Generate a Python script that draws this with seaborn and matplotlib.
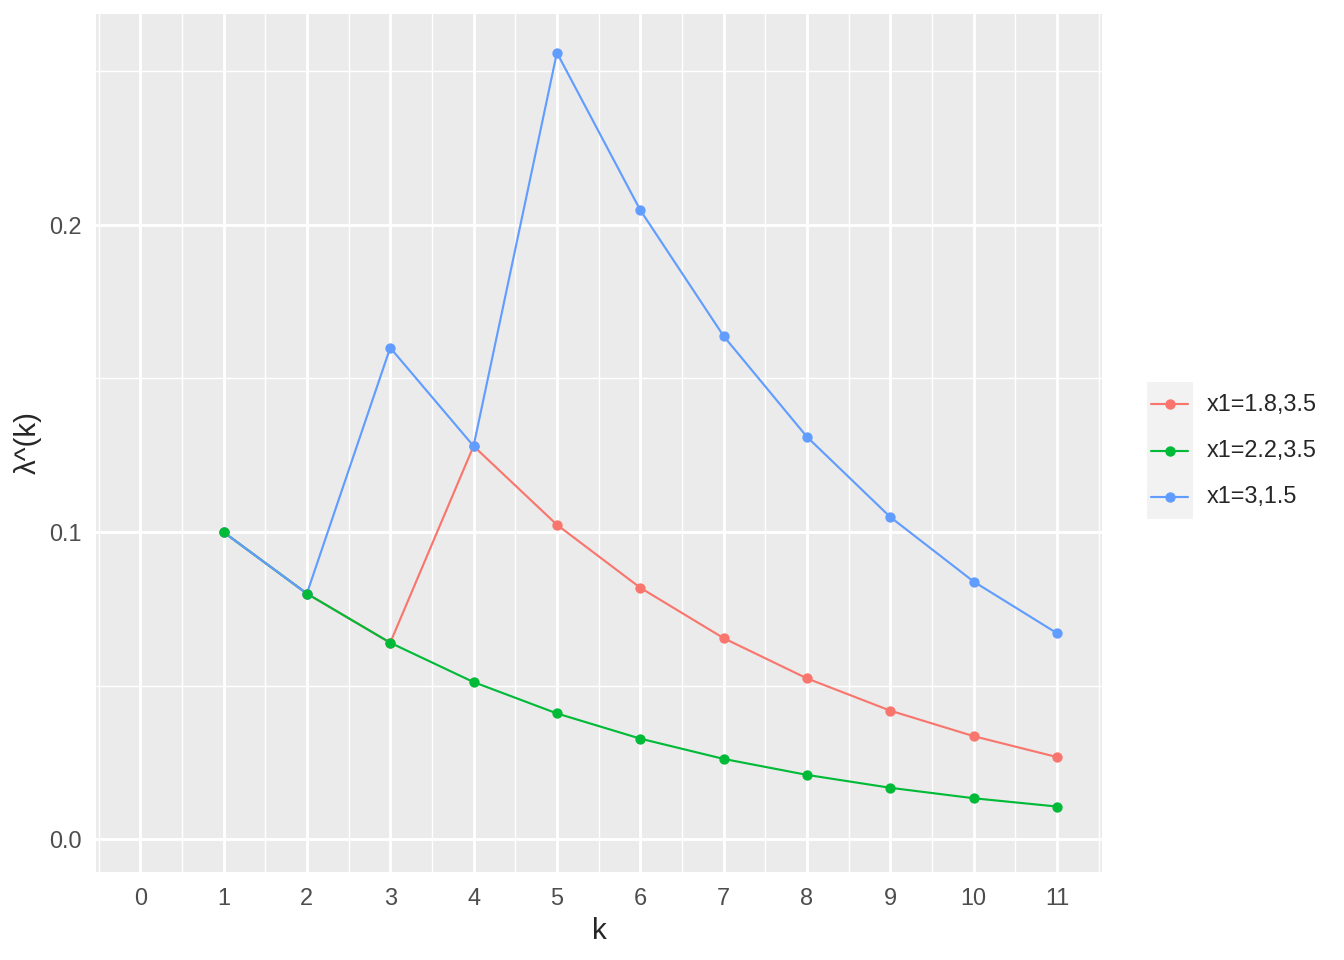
import numpy as np
import pandas as pd
import seaborn as sns
import matplotlib.pyplot as plt
from matplotlib.lines import Line2D
from matplotlib.patches import Rectangle
from matplotlib.ticker import FormatStrFormatter

# values
k = list(range(1, 12))
lam_red = [0.1, 0.08, 0.064, 0.128, 0.1024, 0.0819, 0.0655, 0.0524, 0.0419, 0.0336, 0.0268]
lam_green = [0.1, 0.08, 0.064, 0.0512, 0.041, 0.0328, 0.0262, 0.021, 0.0168, 0.0134, 0.0107]
lam_blue = [0.1, 0.08, 0.16, 0.128, 0.256, 0.2048, 0.1638, 0.131, 0.1049, 0.0839, 0.0671]
labels = ['x1=1.8,3.5', 'x1=2.2,3.5', 'x1=3,1.5']
colors = ['#F8766D', '#00BA38', '#619CFF']
x_ticks = list(range(0, 12))
y_ticks = [0.0, 0.1, 0.2]

df = pd.concat([
    pd.DataFrame({'k': k, 'lam': v, 'series': lab})
    for v, lab in zip([lam_red, lam_green, lam_blue], labels)
])

sns.set_style('white')
plt.rcParams['font.family'] = ['Liberation Sans', 'DejaVu Sans']

W, H = 1344, 960
fig = plt.figure(figsize=(7, 5), dpi=192)
ax = fig.add_axes([96 / W, 1 - 872 / H, (1102 - 96) / W, (872 - 14) / H])
ax.set_facecolor('#EBEBEB')

sns.lineplot(data=df, x='k', y='lam', hue='series', hue_order=labels,
             palette=colors, linewidth=0.8, ax=ax, legend=False, zorder=2)

# points: green drawn last so it sits on top at k=1..3
pal = dict(zip(labels, colors))
for lab in [labels[0], labels[2], labels[1]]:
    sns.scatterplot(data=df[df['series'] == lab], x='k', y='lam', color=pal[lab],
                    s=15, linewidth=0, ax=ax, zorder=3)

ax.set_xlim(-0.53, 11.54)
ax.set_ylim(-0.0106, 0.2686)
ax.set_xticks(x_ticks)
ax.set_xticks(np.arange(-0.5, 12, 1), minor=True)
ax.set_yticks(y_ticks)
ax.set_yticks([0.05, 0.15, 0.25], minor=True)
ax.yaxis.set_major_formatter(FormatStrFormatter('%.1f'))

ax.grid(which='major', color='white', linewidth=1.07)
ax.grid(which='minor', color='white', linewidth=0.53)
ax.set_axisbelow(True)
for s in ax.spines.values():
    s.set_visible(False)

ax.tick_params(which='major', length=2.75, width=1.07, color='#333333',
               labelcolor='#4D4D4D', labelsize=8.8, pad=2.8)
ax.tick_params(which='minor', length=0)

ax.set_xlabel('k', fontsize=11, labelpad=2.75)
ax.set_ylabel('λ^(k)', fontsize=11, labelpad=2.75)

# legend in ggplot style
fig.add_artist(Rectangle((1147 / W, 1 - 519 / H), 46 / W, 137 / H,
                         transform=fig.transFigure, facecolor='#F2F2F2',
                         edgecolor='none'))
for lab, col, yp in zip(labels, colors, [404, 451, 497]):
    y = 1 - yp / H
    fig.add_artist(Line2D([1151 / W, 1188 / W], [y, y], color=col,
                          linewidth=0.8, transform=fig.transFigure))
    fig.add_artist(Line2D([1169.5 / W], [y], color=col, marker='o',
                          markersize=3.9, markeredgewidth=0,
                          transform=fig.transFigure))
    fig.text(1207 / W, y, lab, fontsize=8.8, va='center', ha='left')

fig.savefig('out.png', dpi=192)
